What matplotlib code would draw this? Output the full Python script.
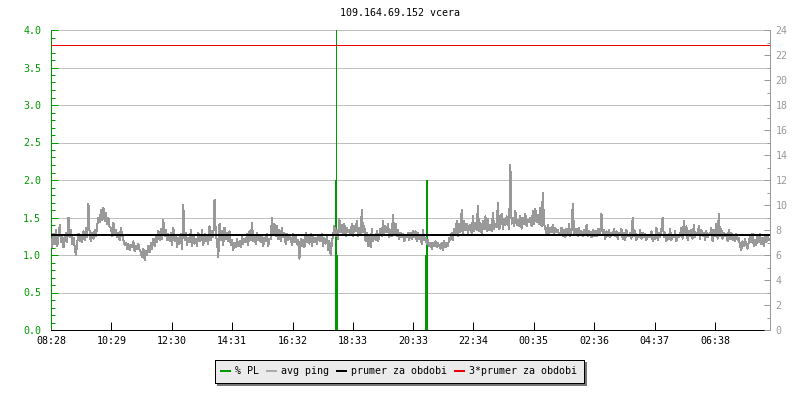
"""Ping graph for 109.164.69.152 (vcera): packet loss + avg ping over 24 h."""

import matplotlib

matplotlib.use("Agg")

import matplotlib.pyplot as plt
import numpy as np
from matplotlib.lines import Line2D
from matplotlib.ticker import MultipleLocator

TITLE = "109.164.69.152 vcera"
START = "08:28"
SAMPLE_MIN = 2.5  # avg ping sample interval, minutes

# avg ping in tenths of ms, one row per hour starting at 08:28
AVG_PING_ROWS = [
    "73 66 77 69 80 67 75 84 70 76 66 72 78 70 90 74 80 69 74 66 60 70 77 71",
    "76 70 79 72 82 74 101 76 71 78 73 80 75 84 90 86 96 88 98 87 94 85 90 82",
    "82 75 86 76 80 74 78 72 82 76 72 68 70 65 69 64 68 66 71 63 67 65 69 64",
    "62 58 65 56 63 60 67 62 70 65 73 67 76 70 79 72 81 73 88 75 80 72 77 71",
    "78 68 82 71 76 66 74 69 77 65 100 72 78 68 74 70 80 67 76 69 73 67 78 71",
    "72 80 68 77 71 75 69 83 72 79 74 104 77 71 58 85 72 79 68 82 73 78 71 79",
    "68 72 64 70 66 73 67 71 66 75 69 73 70 77 68 79 72 86 71 76 69 78 72 76",
    "70 76 67 74 71 77 67 73 73 90 76 85 75 83 73 80 71 82 74 78 69 77 72 75",
    "74 68 77 70 75 69 72 57 73 67 72 66 78 70 76 69 77 67 76 70 74 69 76 72",
    "71 77 67 74 69 75 64 71 60 70 76 83 75 80 73 89 78 84 76 85 75 82 78 80",
    "77 85 75 83 79 87 75 82 77 96 78 83 71 78 67 76 66 81 71 76 72 79 71 76",
    "81 75 87 77 83 78 85 74 80 75 92 77 85 75 80 73 78 74 77 71 76 74 78 72",
    "78 73 79 74 79 71 78 73 76 69 80 72 74 69 72 67 70 65 70 67 71 66 70 67",
    "65 70 64 71 66 70 67 74 72 78 72 81 76 87 75 85 78 96 77 87 80 85 77 83",
    "84 77 91 79 86 80 99 79 86 77 87 81 91 79 89 80 84 79 94 81 85 82 102 81",
    "83 93 81 89 84 91 86 81 132 85 90 83 95 84 88 83 91 81 90 85 93 83 88 86",
    "90 83 95 85 97 86 92 85 98 83 110 85 81 77 84 77 82 78 84 77 82 78 80 77",
    "77 82 75 80 74 81 76 85 75 80 101 78 76 81 75 82 76 79 75 80 76 84 75 79",
    "78 74 80 75 79 75 81 76 78 93 76 80 73 79 75 80 74 78 76 81 75 79 73 78",
    "76 81 73 78 72 80 76 75 78 73 90 75 79 72 76 74 80 73 78 74 77 72 76 74",
    "75 79 71 76 73 82 72 78 74 80 90 74 78 71 76 73 81 72 76 74 79 71 76 74",
    "76 82 73 87 76 83 72 79 75 80 73 84 74 78 76 83 73 80 75 78 72 79 74 77",
    "76 82 71 80 75 85 73 93 75 81 73 78 75 77 71 80 73 78 72 76 71 77 72 74",
    "67 64 71 67 73 68 65 70 75 70 77 67 72 68 75 70 77 69 74 67 75 70 76 72",
]

# packet loss [%]
PL_TIMES = ["17:57", "17:59", "18:01", "20:59", "21:01"]
PL_VALUES = [2.0, 4.0, 1.0, 1.0, 2.0]

MEAN_PING = 7.6  # "prumer za obdobi" [ms]

X_TICK_LABELS = ["08:28", "10:29", "12:30", "14:31", "16:32", "18:33",
                 "20:33", "22:34", "00:35", "02:36", "04:37", "06:38"]

GREEN = "#009900"
GRAY = "#999999"
GRID = "#c0c0c0"
RED = "#ee0000"
FONT = "DejaVu Sans Mono"
FS = 7.2
PX = 0.72  # one pixel at 100 dpi, in points


def minutes_since_start(hhmm: str) -> int:
    h, m = map(int, hhmm.split(":"))
    h0, m0 = map(int, START.split(":"))
    return (h * 60 + m - h0 * 60 - m0) % 1440


avg_ping = [int(v) / 10 for row in AVG_PING_ROWS for v in row.split()]

plt.rcParams["font.family"] = FONT
plt.rcParams["font.size"] = FS
plt.rcParams["lines.antialiased"] = False
plt.rcParams["patch.antialiased"] = False

fig = plt.figure(figsize=(8, 4), dpi=100)
ax = fig.add_axes([51 / 800, 70 / 400, 719 / 800, 300 / 400])
ax2 = ax.twinx()

# packet loss bars (left axis)
pl_x = [minutes_since_start(t) for t in PL_TIMES]
ax.bar(pl_x, PL_VALUES, width=2.1, color=GREEN, linewidth=0, zorder=2)

ax.set_xlim(0, 1440)
ax.set_ylim(0, 4.0)
ax.yaxis.set_major_locator(MultipleLocator(0.5))
ax.yaxis.set_minor_locator(MultipleLocator(0.1))
ax.yaxis.set_major_formatter(plt.FuncFormatter(lambda v, _: f"{v:.1f}"))
ax.grid(axis="y", color=GRID, linewidth=PX)
ax.set_axisbelow(True)

ax.set_xticks([minutes_since_start(t) for t in X_TICK_LABELS])
ax.set_xticklabels(X_TICK_LABELS)
ax.tick_params(axis="x", direction="in", length=6, width=PX, pad=4,
               colors="black")
ax.tick_params(axis="y", which="major", direction="in", length=5, width=PX,
               colors=GREEN, pad=7)
ax.tick_params(axis="y", which="minor", direction="in", length=3, width=PX,
               colors=GREEN)

ax.spines["top"].set_visible(False)
ax.spines["right"].set_visible(False)
ax.spines["left"].set_color(GREEN)
ax.spines["bottom"].set_color("black")
for side in ("left", "bottom"):
    ax.spines[side].set_linewidth(PX)

# avg ping (right axis)
ping_x = np.arange(len(avg_ping)) * SAMPLE_MIN
ax2.plot(ping_x, avg_ping, color=GRAY, linewidth=PX, zorder=2)
ax2.axhline(MEAN_PING, color="black", linewidth=2 * PX, zorder=3)
ax2.axhline(3 * MEAN_PING, color=RED, linewidth=PX, zorder=3)
ax2.set_ylim(0, 24)
ax2.yaxis.set_major_locator(MultipleLocator(2))
ax2.yaxis.set_minor_locator(MultipleLocator(1))
ax2.tick_params(axis="y", which="major", direction="in", length=4, width=PX,
                colors=GRAY, pad=4)
ax2.tick_params(axis="y", which="minor", direction="in", length=2, width=PX,
                colors=GRAY)
for side in ("top", "left", "bottom"):
    ax2.spines[side].set_visible(False)
ax2.spines["right"].set_color(GRAY)
ax2.spines["right"].set_linewidth(PX)

fig.text(0.5, 1 - 13 / 400, TITLE, ha="center", va="center", fontsize=FS)

handles = [
    Line2D([], [], color=GREEN, linewidth=2 * PX),
    Line2D([], [], color="#aaaaaa", linewidth=2 * PX),
    Line2D([], [], color="black", linewidth=2 * PX),
    Line2D([], [], color=RED, linewidth=2 * PX),
]
labels = ["% PL", "avg ping", "prumer za obdobi", "3*prumer za obdobi"]
leg = fig.legend(handles, labels, loc="center", ncol=4,
                 bbox_to_anchor=(399 / 800, 1 - 371 / 400),
                 frameon=True, fancybox=False,
                 shadow={"color": "#777777", "alpha": 1},
                 handlelength=0.9, handletextpad=0.5, columnspacing=0.8,
                 borderpad=0.65, borderaxespad=0, fontsize=FS)
leg.get_frame().set_facecolor("#ebebeb")
leg.get_frame().set_edgecolor("black")
leg.get_frame().set_linewidth(PX)
leg.get_frame().set_alpha(1)

fig.savefig("out.png", dpi=100, facecolor="white")
